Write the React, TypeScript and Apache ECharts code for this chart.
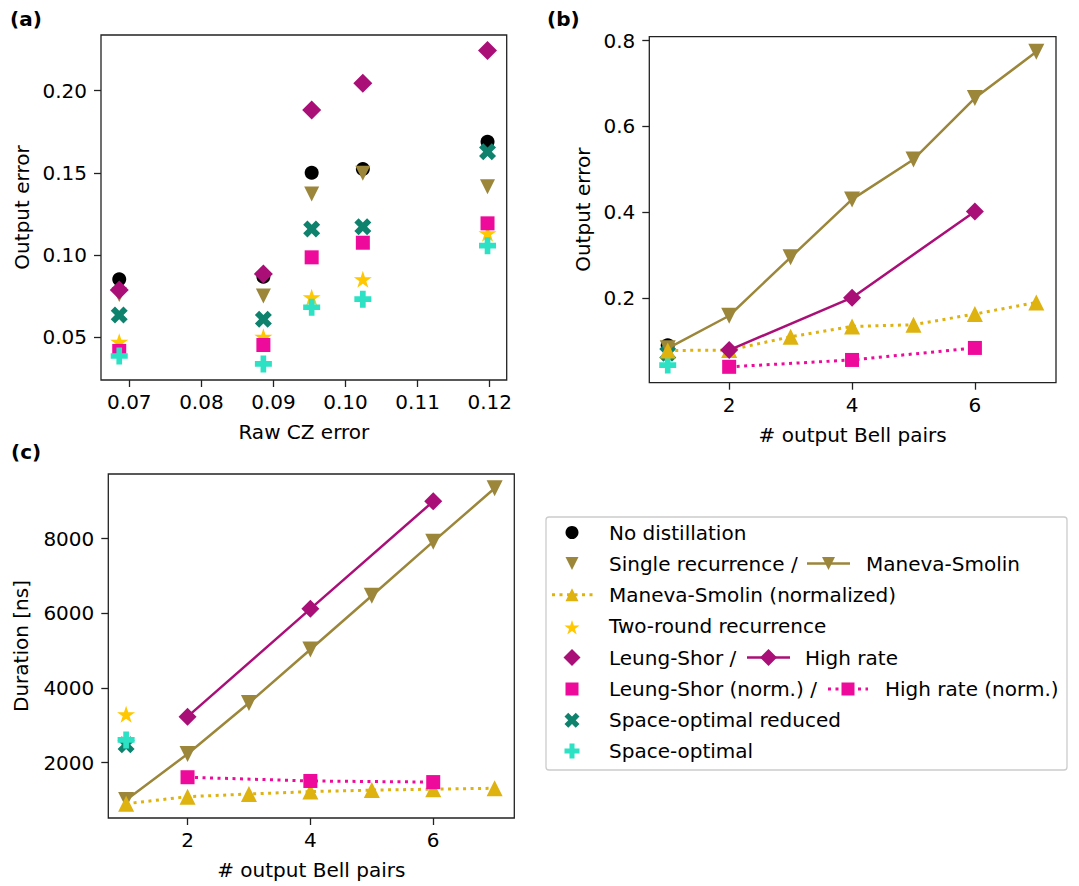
import React, { useEffect, useRef } from "react";
import * as echarts from "echarts";

const FONT = '"DejaVu Sans", "Liberation Sans", sans-serif';

// ---------- Panel (a): output error vs raw CZ error ----------
const aRawCZ = [0.0686, 0.0886, 0.0953, 0.1024, 0.1197];
const aNoDist = [0.0851, 0.0867, 0.1500, 0.1523, 0.1689];
const aSingleRec = [0.0758, 0.0750, 0.1370, 0.1497, 0.1415];
const aTwoRound = [0.0471, 0.0502, 0.0742, 0.0851, 0.1131];
const aLeungShor = [0.0786, 0.0884, 0.1882, 0.2045, 0.2244];
const aLeungShorNorm = [0.0415, 0.0451, 0.0985, 0.1074, 0.1192];
const aSpaceOptRed = [0.0634, 0.0608, 0.1158, 0.1172, 0.1628];
const aSpaceOpt = [0.0384, 0.0336, 0.0681, 0.0730, 0.1056];
const aXTicks = [0.07, 0.08, 0.09, 0.1, 0.11, 0.12];
const aYTicks = [0.05, 0.1, 0.15, 0.2];

// ---------- Panel (b): output error vs # output Bell pairs ----------
const bPairs = [1, 2, 3, 4, 5, 6, 7];
const bManevaSmolin = [0.083, 0.159, 0.295, 0.43, 0.523, 0.666, 0.774];
const bManevaSmolinNorm = [0.078, 0.079, 0.11, 0.134, 0.138, 0.163, 0.19];
const bHighRatePairs = [2, 4, 6];
const bHighRate = [0.079, 0.201, 0.402];
const bHighRateNorm = [0.04, 0.056, 0.084];
const bSinglePair = [1];
const bNoDist = [0.09];
const bSpaceOptRed = [0.0715];
const bSpaceOpt = [0.044];
const bXTicks = [2, 4, 6];
const bYTicks = [0.2, 0.4, 0.6, 0.8];

// ---------- Panel (c): duration vs # output Bell pairs ----------
const cPairs = [1, 2, 3, 4, 5, 6, 7];
const cManevaSmolin = [1000, 2233, 3600, 5030, 6470, 7920, 9350];
const cManevaSmolinNorm = [900, 1090, 1160, 1225, 1265, 1290, 1315];
const cHighRatePairs = [2, 4, 6];
const cHighRate = [3232, 6120, 9000];
const cHighRateNorm = [1610, 1510, 1480];
const cSinglePair = [1];
const cTwoRound = [3300];
const cSpaceOptRed = [2480];
const cSpaceOpt = [2610];
const cXTicks = [2, 4, 6];
const cYTicks = [2000, 4000, 6000, 8000];

const COL = {
  black: "#000000",
  olive: "#9b863a",
  gold: "#deb20f",
  star: "#ffc800",
  purple: "#aa0f77",
  pink: "#ee0a9a",
  teal: "#0f826e",
  cyan: "#2de2c4",
};

const STAR_PTS = [[50, 0], [61.2, 34.5], [97.6, 34.5], [68.2, 55.9], [79.4, 90.5], [50, 69.1], [20.6, 90.5], [31.8, 55.9], [2.4, 34.5], [38.8, 34.5]];
const X_PTS = [[75, 0], [100, 25], [75, 50], [100, 75], [75, 100], [50, 75], [25, 100], [0, 75], [25, 50], [0, 25], [25, 0], [50, 25]];
const PLUS_PTS = [[33.3, 0], [66.7, 0], [66.7, 33.3], [100, 33.3], [100, 66.7], [66.7, 66.7], [66.7, 100], [33.3, 100], [33.3, 66.7], [0, 66.7], [0, 33.3], [33.3, 33.3]];
const toPath = (pts: number[][]) => "path://M" + pts.map((p) => p.join(",")).join("L") + "Z";
const STAR = toPath(STAR_PTS);
const XSYM = toPath(X_PTS);
const PLUS = toPath(PLUS_PTS);

type Mk = { symbol: string; size: number | number[]; rotate?: number; color: string };
const MK: Record<string, Mk> = {
  noDist: { symbol: "circle", size: 14, color: COL.black },
  single: { symbol: "triangle", size: 15, rotate: 180, color: COL.olive },
  singleLine: { symbol: "triangle", size: 16, rotate: 180, color: COL.olive },
  msNorm: { symbol: "triangle", size: 16, color: COL.gold },
  two: { symbol: STAR, size: [18, 17], color: COL.star },
  ls: { symbol: "diamond", size: 19, color: COL.purple },
  lsLine: { symbol: "diamond", size: 18, color: COL.purple },
  lsNorm: { symbol: "rect", size: 14, color: COL.pink },
  sor: { symbol: XSYM, size: 17, color: COL.teal },
  so: { symbol: PLUS, size: 17, color: COL.cyan },
};

const zip = (xs: number[], ys: number[]) => xs.map((x, i) => [x, ys[i]]);

function scatter(idx: number, xs: number[], ys: number[], m: Mk, name: string) {
  return {
    type: "scatter",
    name,
    xAxisIndex: idx,
    yAxisIndex: idx,
    data: zip(xs, ys),
    symbol: m.symbol,
    symbolSize: m.size,
    symbolRotate: m.rotate || 0,
    itemStyle: { color: m.color, opacity: 1 },
    emphasis: { disabled: true },
  };
}

function line(idx: number, xs: number[], ys: number[], m: Mk, dotted: boolean, name: string) {
  return {
    type: "line",
    name,
    xAxisIndex: idx,
    yAxisIndex: idx,
    data: zip(xs, ys),
    symbol: m.symbol,
    symbolSize: m.size,
    symbolRotate: m.rotate || 0,
    showSymbol: true,
    itemStyle: { color: m.color, opacity: 1 },
    lineStyle: dotted
      ? { color: m.color, width: 3, type: [3, 4.5], cap: "butt" }
      : { color: m.color, width: 2.5, type: "solid" },
    emphasis: { disabled: true },
  };
}

const labelStyle = { fontSize: 20, fontFamily: FONT, color: "#000" };

function xAxis(idx: number, min: number, max: number, ticks: number[], fmt: (v: number) => string, name: string) {
  return {
    type: "value",
    gridIndex: idx,
    min,
    max,
    name,
    nameLocation: "middle",
    nameGap: 42,
    nameTextStyle: labelStyle,
    axisLine: { show: false },
    splitLine: { show: false },
    axisTick: { show: true, length: 7, lineStyle: { color: "#222", width: 1.3 }, customValues: ticks },
    axisLabel: { ...labelStyle, margin: 12, customValues: ticks, formatter: fmt },
  };
}

function yAxis(idx: number, min: number, max: number, ticks: number[], fmt: (v: number) => string, name: string, gap: number) {
  return {
    type: "value",
    gridIndex: idx,
    min,
    max,
    name,
    nameLocation: "middle",
    nameGap: gap,
    nameTextStyle: labelStyle,
    axisLine: { show: false },
    splitLine: { show: false },
    axisTick: { show: true, length: 7, lineStyle: { color: "#222", width: 1.3 }, customValues: ticks },
    axisLabel: { ...labelStyle, margin: 14, customValues: ticks, formatter: fmt },
  };
}

// ---------- legend drawing helpers (graphic elements) ----------
function polyPts(pts: number[][], cx: number, cy: number, s: number) {
  return pts.map(([px, py]) => [cx + ((px - 50) / 100) * s, cy + ((py - 50) / 100) * s]);
}
function glyph(kind: string, cx: number, cy: number, s: number, color: string): any {
  const h = s / 2;
  switch (kind) {
    case "circle":
      return { type: "circle", shape: { cx, cy, r: h }, style: { fill: color } };
    case "tdown":
      return { type: "polygon", shape: { points: [[cx - h, cy - h], [cx + h, cy - h], [cx, cy + h]] }, style: { fill: color } };
    case "tup":
      return { type: "polygon", shape: { points: [[cx - h, cy + h], [cx + h, cy + h], [cx, cy - h]] }, style: { fill: color } };
    case "diamond":
      return { type: "polygon", shape: { points: [[cx, cy - h], [cx + h, cy], [cx, cy + h], [cx - h, cy]] }, style: { fill: color } };
    case "rect":
      return { type: "rect", shape: { x: cx - h, y: cy - h, width: s, height: s }, style: { fill: color } };
    case "star":
      return { type: "polygon", shape: { points: polyPts(STAR_PTS, cx, cy + 2, s) }, style: { fill: color } };
    case "x":
      return { type: "polygon", shape: { points: polyPts(X_PTS, cx, cy, s) }, style: { fill: color } };
    case "plus":
      return { type: "polygon", shape: { points: polyPts(PLUS_PTS, cx, cy, s) }, style: { fill: color } };
  }
  return null;
}
function handle(x1: number, x2: number, y: number, color: string, dotted: boolean): any {
  return {
    type: "line",
    shape: { x1, y1: y, x2, y2: y },
    style: dotted
      ? { stroke: color, lineWidth: 3, lineDash: [3, 4.5], lineCap: "butt" }
      : { stroke: color, lineWidth: 2.5 },
  };
}
function txt(x: number, y: number, text: string): any {
  return {
    type: "text",
    x,
    y,
    style: { text, fill: "#000", fontSize: 20, fontFamily: FONT, textAlign: "left", textVerticalAlign: "middle" },
  };
}

function buildLegend(): any[] {
  const rows = [532.5, 563.6, 594.8, 626, 657.5, 689, 720.3, 751];
  const mx = 572;
  const tx = 609;
  const els: any[] = [];
  els.push({
    type: "rect",
    shape: { x: 546, y: 517, width: 521, height: 253, r: 3 },
    style: { fill: "#fff", stroke: "#cccccc", lineWidth: 1.3 },
  });
  els.push(glyph("circle", mx, rows[0], 13, COL.black), txt(tx, rows[0], "No distillation"));
  els.push(glyph("tdown", mx, rows[1], 13, COL.olive), txt(tx, rows[1], "Single recurrence /"));
  els.push(handle(807, 850, rows[1], COL.olive, false), glyph("tdown", 828.5, rows[1], 13, COL.olive), txt(866, rows[1], "Maneva-Smolin"));
  els.push(handle(552, 593, rows[2], COL.gold, true), glyph("tup", mx, rows[2], 13, COL.gold), txt(tx, rows[2], "Maneva-Smolin (normalized)"));
  els.push(glyph("star", mx, rows[3], 16, COL.star), txt(tx, rows[3], "Two-round recurrence"));
  els.push(glyph("diamond", mx, rows[4], 17, COL.purple), txt(tx, rows[4], "Leung-Shor /"));
  els.push(handle(747, 790, rows[4], COL.purple, false), glyph("diamond", 768.5, rows[4], 17, COL.purple), txt(805, rows[4], "High rate"));
  els.push(glyph("rect", mx, rows[5], 13, COL.pink), txt(tx, rows[5], "Leung-Shor (norm.) /"));
  els.push(handle(828, 868, rows[5], COL.pink, true), glyph("rect", 848, rows[5], 13, COL.pink), txt(885, rows[5], "High rate (norm.)"));
  els.push(glyph("x", mx, rows[6], 15, COL.teal), txt(tx, rows[6], "Space-optimal reduced"));
  els.push(glyph("plus", mx, rows[7], 15, COL.cyan), txt(tx, rows[7], "Space-optimal"));
  return els;
}

function panelLabel(x: number, y: number, text: string): any {
  return {
    type: "text",
    x,
    y,
    style: { text, fill: "#000", fontSize: 20, fontWeight: "bold", fontFamily: FONT, textAlign: "left", textVerticalAlign: "middle" },
  };
}

export default function App() {
  const ref = useRef<HTMLDivElement>(null);
  useEffect(() => {
    document.body.style.margin = "0";
    if (!ref.current) return;
    const chart = echarts.init(ref.current, undefined, { renderer: "svg" });
    const f2 = (v: number) => v.toFixed(2);
    const f1 = (v: number) => v.toFixed(1);
    const f0 = (v: number) => String(Math.round(v));
    const gridBase = { show: true, borderColor: "#222", borderWidth: 1.3, backgroundColor: "transparent", containLabel: false };
    const option: any = {
      animation: false,
      backgroundColor: "#ffffff",
      textStyle: { fontFamily: FONT },
      grid: [
        { ...gridBase, left: 101, top: 35, width: 405.7, height: 345 },
        { ...gridBase, left: 649.3, top: 36.7, width: 406.7, height: 346 },
        { ...gridBase, left: 108.3, top: 474, width: 406, height: 344 },
      ],
      xAxis: [
        xAxis(0, 0.06607, 0.12236, aXTicks, f2, "Raw CZ error"),
        xAxis(1, 0.7, 7.32, bXTicks, f0, "# output Bell pairs"),
        xAxis(2, 0.71, 7.32, cXTicks, f0, "# output Bell pairs"),
      ],
      yAxis: [
        yAxis(0, 0.0238, 0.2339, aYTicks, f2, "Output error", 69),
        yAxis(1, 0.003, 0.809, bYTicks, f1, "Output error", 56),
        yAxis(2, 518, 9733, cYTicks, f0, "Duration [ns]", 77),
      ],
      series: [
        // (a)
        scatter(0, aRawCZ, aNoDist, MK.noDist, "No distillation"),
        scatter(0, aRawCZ, aSingleRec, MK.single, "Single recurrence"),
        scatter(0, aRawCZ, aTwoRound, MK.two, "Two-round recurrence"),
        scatter(0, aRawCZ, aLeungShor, MK.ls, "Leung-Shor"),
        scatter(0, aRawCZ, aLeungShorNorm, MK.lsNorm, "Leung-Shor (norm.)"),
        scatter(0, aRawCZ, aSpaceOptRed, MK.sor, "Space-optimal reduced"),
        scatter(0, aRawCZ, aSpaceOpt, MK.so, "Space-optimal"),
        // (b)
        scatter(1, bSinglePair, bNoDist, MK.noDist, "No distillation"),
        line(1, bPairs, bManevaSmolin, MK.singleLine, false, "Maneva-Smolin"),
        line(1, bPairs, bManevaSmolinNorm, MK.msNorm, true, "Maneva-Smolin (normalized)"),
        line(1, bHighRatePairs, bHighRate, MK.lsLine, false, "High rate"),
        line(1, bHighRatePairs, bHighRateNorm, MK.lsNorm, true, "High rate (norm.)"),
        scatter(1, bSinglePair, bSpaceOptRed, MK.sor, "Space-optimal reduced"),
        scatter(1, bSinglePair, bSpaceOpt, MK.so, "Space-optimal"),
        // (c)
        line(2, cPairs, cManevaSmolin, MK.singleLine, false, "Maneva-Smolin"),
        line(2, cPairs, cManevaSmolinNorm, MK.msNorm, true, "Maneva-Smolin (normalized)"),
        scatter(2, cSinglePair, cTwoRound, MK.two, "Two-round recurrence"),
        line(2, cHighRatePairs, cHighRate, MK.lsLine, false, "High rate"),
        line(2, cHighRatePairs, cHighRateNorm, MK.lsNorm, true, "High rate (norm.)"),
        scatter(2, cSinglePair, cSpaceOptRed, MK.sor, "Space-optimal reduced"),
        scatter(2, cSinglePair, cSpaceOpt, MK.so, "Space-optimal"),
      ],
      graphic: [
        panelLabel(10, 19, "(a)"),
        panelLabel(547, 19, "(b)"),
        panelLabel(11, 452, "(c)"),
        ...buildLegend(),
      ],
    };
    chart.setOption(option);
    return () => chart.dispose();
  }, []);
  return <div ref={ref} style={{ width: 1079, height: 886 }} />;
}
